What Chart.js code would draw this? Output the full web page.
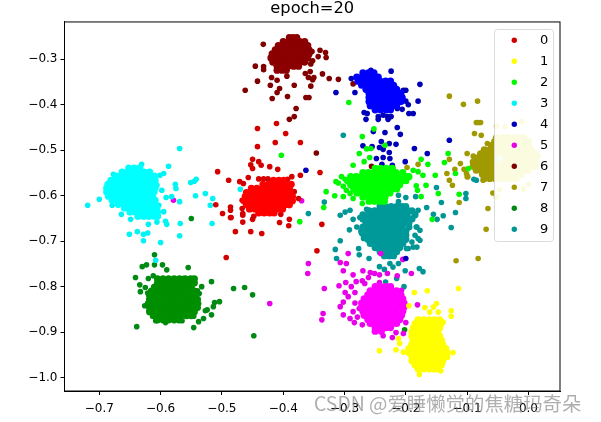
<!DOCTYPE html>
<html>
<head>
<meta charset="utf-8">
<script src="https://cdn.jsdelivr.net/npm/chart.js@4"></script>
<style>
body{margin:0;background:#fff;}
#wrap{position:relative;width:601px;height:422px;overflow:hidden;}
#mark{position:absolute;left:314px;top:388px;font:19.4px "Noto Sans CJK SC","Noto Sans",sans-serif;color:rgba(120,120,120,.6);white-space:nowrap;}
</style>
</head>
<body>
<div id="wrap">
<canvas id="chart" width="601" height="422"></canvas>
<div id="mark">CSDN @爱睡懒觉的焦糖玛奇朵</div>
</div>
<script>
const classNames = ['0','1','2','3','4','5','6','7','8','9'];
const coreColors = ['#ff0000','#ffff00','#00ff00','#00ffff','#0000ff','#ff00ff','#8b0000','#a09a00','#008f00','#009999'];
const strayColors = ['#d40000','#ffff00','#00f800','#00f4f4','#0000b8','#e800e8','#800000','#a09a00','#008a14','#009696'];
const xTicks = [-0.7,-0.6,-0.5,-0.4,-0.3,-0.2,-0.1,0.0];
const yTicks = [-0.3,-0.4,-0.5,-0.6,-0.7,-0.8,-0.9,-1.0];

// scattered points, [x, y]
const strays0 = [[-.442,-.452],[-.411,-.441],[-.396,-.463],[-.442,-.492],[-.413,-.483],[-.372,-.483],[-.45,-.52],[-.44,-.525],[-.453,-.532],[-.436,-.533],[-.45,-.54],[-.422,-.536],[-.409,-.542],[-.507,-.547],[-.489,-.566],[-.457,-.56],[-.471,-.569],[-.465,-.573],[-.372,-.555],[-.386,-.558],[-.393,-.564],[-.44,-.563],[-.432,-.563],[-.425,-.563],[-.51,-.62],[-.499,-.639],[-.486,-.625],[-.486,-.632],[-.486,-.648],[-.467,-.61],[-.467,-.628],[-.466,-.643],[-.404,-.641],[-.39,-.652],[-.375,-.606],[-.382,-.591],[-.389,-.577],[-.485,-.648],[-.466,-.658],[-.45,-.652],[-.448,-.645],[-.406,-.659],[-.391,-.666],[-.478,-.679],[-.453,-.679],[-.435,-.683],[-.493,-.736],[-.466,-.639],[-.438,-.638],[-.34,-.549],[-.337,-.663],[-.345,-.721]];
const strays1 = [[-.186,-.813],[-.165,-.809],[-.114,-.804],[-.195,-.842],[-.169,-.846],[-.15,-.837],[-.155,-.845],[-.161,-.856],[-.147,-.856],[-.126,-.853],[-.126,-.865],[-.139,-.878],[-.243,-.941],[-.216,-.939],[-.21,-.925],[-.212,-.914],[-.204,-.944],[-.123,-.945],[-.178,-.993],[-.143,-.985]];
const strays2 = [[-.293,-.395],[-.271,-.47],[-.252,-.453],[-.276,-.507],[-.257,-.496],[-.264,-.497],[-.286,-.533],[-.268,-.525],[-.259,-.516],[-.234,-.489],[-.175,-.52],[-.164,-.531],[-.188,-.544],[-.18,-.547],[-.172,-.555],[-.152,-.555],[-.183,-.578],[-.167,-.577],[-.181,-.588],[-.147,-.595],[-.175,-.602],[-.131,-.507],[-.137,-.527],[-.119,-.551],[-.098,-.54],[-.113,-.597],[-.33,-.591],[-.334,-.626],[-.314,-.569],[-.31,-.572],[-.305,-.558],[-.302,-.579],[-.299,-.564],[-.316,-.6],[-.302,-.602],[-.291,-.595],[-.286,-.606],[-.271,-.617],[-.289,-.558],[-.297,-.588],[-.157,-.652],[-.432,-.575],[-.403,-.511],[-.373,-.657]];
const strays3 = [[-.569,-.496],[-.587,-.535],[-.631,-.531],[-.677,-.553],[-.595,-.551],[-.601,-.555],[-.576,-.575],[-.575,-.584],[-.551,-.571],[-.542,-.564],[-.545,-.568],[-.606,-.577],[-.598,-.588],[-.543,-.6],[-.527,-.595],[-.515,-.606],[-.519,-.621],[-.569,-.613],[-.582,-.602],[-.591,-.604],[-.7,-.608],[-.719,-.621],[-.679,-.621],[-.664,-.641],[-.649,-.652],[-.603,-.621],[-.595,-.635],[-.62,-.663],[-.606,-.658],[-.592,-.656],[-.59,-.663],[-.568,-.661],[-.516,-.661],[-.651,-.685],[-.638,-.679],[-.628,-.685],[-.621,-.682],[-.628,-.699],[-.6,-.703],[-.569,-.688],[-.608,-.742],[-.47,-.586],[-.39,-.608],[-.047,-.518]];
const strays4 = [[-.289,-.342],[-.257,-.324],[-.224,-.326],[-.177,-.355],[-.314,-.373],[-.283,-.373],[-.2,-.368],[-.204,-.368],[-.2,-.392],[-.18,-.392],[-.196,-.4],[-.214,-.408],[-.206,-.41],[-.195,-.419],[-.188,-.419],[-.268,-.417],[-.263,-.419],[-.265,-.432],[-.245,-.426],[-.245,-.432],[-.237,-.423],[-.23,-.426],[-.224,-.426],[-.229,-.432],[-.214,-.45],[-.253,-.459],[-.234,-.461],[-.209,-.465],[-.24,-.481],[-.227,-.485],[-.27,-.49],[-.255,-.492],[-.243,-.494],[-.237,-.498],[-.216,-.487],[-.227,-.505],[-.186,-.496],[-.165,-.507],[-.129,-.478],[-.248,-.518],[-.237,-.516],[-.226,-.518],[-.239,-.531],[-.222,-.533],[-.201,-.525],[-.206,-.555],[-.363,-.544],[-.2,-.738]];
const strays5 = [[-.294,-.727],[-.307,-.747],[-.297,-.749],[-.302,-.765],[-.286,-.774],[-.27,-.765],[-.258,-.769],[-.251,-.771],[-.243,-.774],[-.261,-.78],[-.23,-.771],[-.214,-.776],[-.191,-.771],[-.298,-.791],[-.309,-.798],[-.289,-.8],[-.281,-.789],[-.271,-.787],[-.267,-.793],[-.243,-.791],[-.283,-.813],[-.299,-.813],[-.294,-.822],[-.302,-.834],[-.307,-.844],[-.283,-.836],[-.276,-.848],[-.286,-.855],[-.302,-.862],[-.291,-.87],[-.279,-.867],[-.284,-.879],[-.271,-.884],[-.333,-.804],[-.335,-.859],[-.337,-.873],[-.359,-.749],[-.36,-.771],[-.422,-.837],[-.579,-.61],[-.37,-.611],[-.181,-.84],[-.185,-.917],[-.2,-.879],[-.204,-.903],[-.216,-.901],[-.222,-.912],[-.237,-.908],[-.207,-.808],[-.241,-.727],[-.205,-.74]];
const strays6 = [[-.4325,-.267],[-.4455,-.315],[-.432,-.316],[-.432,-.323],[-.419,-.34],[-.41,-.346],[-.394,-.337],[-.442,-.348],[-.421,-.357],[-.406,-.364],[-.41,-.373],[-.382,-.357],[-.462,-.368],[-.418,-.386],[-.393,-.382],[-.363,-.384],[-.358,-.384],[-.379,-.408],[-.382,-.426],[-.39,-.432],[-.364,-.331],[-.359,-.34],[-.353,-.283],[-.34,-.28],[-.331,-.285],[-.33,-.296],[-.343,-.294],[-.352,-.303],[-.355,-.31],[-.356,-.327],[-.35,-.34],[-.352,-.345],[-.336,-.332],[-.325,-.342],[-.31,-.344],[-.286,-.354],[-.355,-.359],[-.346,-.506],[-.256,-.535]];
const strays7 = [[-.129,-.381],[-.106,-.399],[-.083,-.392],[-.082,-.439],[-.078,-.439],[-.085,-.439],[-.088,-.463],[-.077,-.467],[-.067,-.485],[-.1,-.507],[-.129,-.52],[-.111,-.529],[-.12,-.542],[-.133,-.551],[-.129,-.566],[-.124,-.577],[-.105,-.542],[-.101,-.551],[-.1,-.558],[-.09,-.513],[-.058,-.594],[-.113,-.615],[-.066,-.628],[-.069,-.674],[-.118,-.743],[-.082,-.738],[-.198,-.538],[-.18,-.531],[-.06,-.561],[-.074,-.566],[-.099,-.558],[-.052,-.447],[-.038,-.448],[-.011,-.437],[0,-.575],[-.008,-.585],[-.047,-.587],[.016,-.511],[-.052,-.603]];
const strays8 = [[-.61,-.73],[-.63,-.756],[-.623,-.752],[-.61,-.752],[-.597,-.752],[-.59,-.763],[-.555,-.758],[-.641,-.78],[-.62,-.782],[-.612,-.776],[-.634,-.796],[-.633,-.811],[-.625,-.802],[-.621,-.814],[-.626,-.842],[-.639,-.888],[-.517,-.789],[-.533,-.8],[-.54,-.809],[-.537,-.815],[-.538,-.837],[-.504,-.833],[-.512,-.835],[-.514,-.844],[-.524,-.851],[-.527,-.853],[-.517,-.862],[-.53,-.87],[-.538,-.877],[-.546,-.89],[-.481,-.804],[-.463,-.802],[-.45,-.818],[-.448,-.908],[-.55,-.65],[-.571,-.782],[-.563,-.782],[-.55,-.789],[-.592,-.879],[-.608,-.875],[-.565,-.875],[-.546,-.865],[-.202,-.895]];
const strays9 = [[-.302,-.467],[-.333,-.614],[-.307,-.643],[-.299,-.636],[-.291,-.632],[-.264,-.63],[-.286,-.652],[-.275,-.648],[-.292,-.675],[-.28,-.669],[-.272,-.683],[-.269,-.694],[-.277,-.716],[-.307,-.699],[-.315,-.718],[-.313,-.738],[-.18,-.632],[-.166,-.626],[-.155,-.641],[-.149,-.652],[-.139,-.644],[-.126,-.67],[-.119,-.637],[-.182,-.669],[-.177,-.676],[-.185,-.687],[-.177,-.698],[-.19,-.702],[-.182,-.713],[-.196,-.716],[-.15,-.582],[-.142,-.615],[-.184,-.602],[-.2,-.604],[-.242,-.56],[-.233,-.547],[-.22,-.57],[-.217,-.584],[-.212,-.599],[-.237,-.595],[-.25,-.599],[-.264,-.586],[-.242,-.578],[-.212,-.613],[-.102,-.595],[-.102,-.606],[-.089,-.564],[-.085,-.566],[-.259,-.398],[-.248,-.39],[-.246,-.398],[-.276,-.73],[-.26,-.738],[-.243,-.756],[-.235,-.762],[-.201,-.765],[-.178,-.76],[-.172,-.767],[-.215,-.782],[-.233,-.79],[-.203,-.8],[-.221,-.757],[-.212,-.749],[-.226,-.749],[-.183,-.669],[-.18,-.694],[-.188,-.713],[-.199,-.716],[-.359,-.639],[-.408,-.615]];

// dense clusters, each row is [y, x, x, x, ...]
const core0 = [
[-.566,-.416,-.407,-.399],
[-.575,-.433,-.424,-.414,-.405,-.396,-.387],
[-.584,-.452,-.443,-.434,-.425,-.416,-.407,-.398,-.39],
[-.593,-.46,-.451,-.442,-.433,-.424,-.415,-.406,-.397,-.389],
[-.602,-.462,-.453,-.444,-.435,-.426,-.417,-.408,-.399,-.39,-.385],
[-.611,-.464,-.455,-.446,-.437,-.428,-.419,-.41,-.401,-.392,-.385],
[-.62,-.46,-.451,-.442,-.433,-.424,-.415,-.406,-.397,-.39],
[-.629,-.455,-.446,-.437,-.428,-.419,-.41,-.401],
[-.638,-.44,-.431,-.422,-.415]];
const core1 = [
[-.873,-.18,-.171,-.162,-.153,-.145],
[-.882,-.185,-.176,-.167,-.158,-.15,-.143],
[-.891,-.188,-.179,-.17,-.161,-.152,-.145],
[-.9,-.19,-.181,-.172,-.163,-.155,-.148],
[-.909,-.19,-.181,-.172,-.163,-.154,-.145],
[-.918,-.188,-.179,-.17,-.161,-.152,-.142],
[-.927,-.19,-.181,-.172,-.163,-.154,-.146,-.14],
[-.936,-.195,-.186,-.177,-.168,-.159,-.15,-.142,-.135],
[-.945,-.195,-.186,-.177,-.168,-.159,-.15,-.141,-.133],
[-.954,-.19,-.181,-.172,-.163,-.154,-.145,-.137,-.133],
[-.963,-.19,-.181,-.172,-.163,-.154,-.146,-.14],
[-.972,-.185,-.176,-.167,-.158,-.15,-.142],
[-.981,-.18,-.171,-.162,-.155,-.15]];
const core2 = [
[-.54,-.25,-.241,-.232,-.222],
[-.549,-.27,-.261,-.252,-.243,-.234,-.225,-.216,-.205],
[-.558,-.29,-.281,-.272,-.263,-.254,-.245,-.236,-.227,-.218,-.209,-.2,-.195],
[-.567,-.295,-.286,-.277,-.268,-.259,-.25,-.241,-.232,-.223,-.214,-.205,-.2],
[-.576,-.29,-.281,-.272,-.263,-.254,-.245,-.236,-.227,-.218,-.21],
[-.585,-.285,-.276,-.267,-.258,-.249,-.24,-.231,-.222,-.215],
[-.594,-.28,-.271,-.262,-.253,-.244,-.235,-.226],
[-.603,-.27,-.261,-.252,-.243,-.234],
[-.612,-.26,-.251,-.242,-.235]];
const core3 = [
[-.539,-.652,-.643,-.634],
[-.548,-.663,-.654,-.645,-.636,-.627,-.618],
[-.557,-.673,-.664,-.655,-.646,-.637,-.628,-.619,-.61],
[-.566,-.681,-.672,-.663,-.654,-.645,-.636,-.627,-.618,-.609],
[-.575,-.686,-.677,-.668,-.659,-.65,-.641,-.632,-.623,-.614,-.609],
[-.583,-.688,-.679,-.67,-.661,-.652,-.643,-.634,-.625,-.616,-.609],
[-.592,-.688,-.679,-.67,-.661,-.652,-.643,-.634,-.625,-.616,-.611],
[-.601,-.685,-.676,-.667,-.658,-.649,-.64,-.631,-.622,-.613],
[-.61,-.679,-.67,-.661,-.652,-.643,-.634,-.625,-.616,-.609],
[-.619,-.669,-.66,-.651,-.642,-.633,-.624,-.615,-.609],
[-.627,-.659,-.65,-.641,-.632,-.623,-.614,-.606],
[-.636,-.65,-.641,-.632,-.623,-.614,-.605],
[-.645,-.637,-.628,-.619,-.61,-.605]];
const core4 = [
[-.33,-.27,-.261,-.252],
[-.339,-.28,-.271,-.262,-.253,-.245],
[-.348,-.278,-.269,-.26,-.251,-.242,-.233,-.225],
[-.357,-.272,-.263,-.254,-.245,-.236,-.227,-.22],
[-.366,-.265,-.256,-.247,-.238,-.229,-.22,-.215],
[-.375,-.26,-.251,-.242,-.233,-.224,-.215,-.208],
[-.384,-.26,-.251,-.242,-.233,-.224,-.215,-.206],
[-.393,-.26,-.251,-.242,-.233,-.224,-.215,-.208],
[-.402,-.258,-.249,-.24,-.231,-.222,-.215],
[-.411,-.25,-.241,-.232,-.225]];
const core5 = [
[-.8,-.25,-.241,-.232,-.225],
[-.809,-.258,-.249,-.24,-.231,-.222,-.215],
[-.818,-.262,-.253,-.244,-.235,-.226,-.217,-.208],
[-.827,-.268,-.259,-.25,-.241,-.232,-.223,-.214,-.205],
[-.836,-.272,-.263,-.254,-.245,-.236,-.227,-.218,-.209,-.203],
[-.845,-.272,-.263,-.254,-.245,-.236,-.227,-.218,-.209,-.203],
[-.854,-.27,-.261,-.252,-.243,-.234,-.225,-.216,-.205],
[-.863,-.268,-.259,-.25,-.241,-.232,-.223,-.214,-.207],
[-.872,-.262,-.253,-.244,-.235,-.226,-.217,-.21],
[-.881,-.258,-.249,-.24,-.231,-.222,-.215],
[-.89,-.25,-.241,-.232,-.225],
[-.898,-.25,-.24]];
const core6 = [
[-.252,-.39,-.384,-.378],
[-.261,-.4,-.391,-.382,-.373,-.365],
[-.27,-.408,-.399,-.39,-.381,-.372,-.363,-.36],
[-.279,-.413,-.404,-.395,-.386,-.377,-.368,-.358],
[-.288,-.418,-.409,-.4,-.391,-.382,-.373,-.364,-.358],
[-.297,-.42,-.411,-.402,-.393,-.384,-.375,-.366,-.36],
[-.306,-.417,-.408,-.399,-.39,-.381,-.372,-.365],
[-.315,-.41,-.401,-.392,-.383,-.375],
[-.324,-.41,-.402,-.395]];
const core7 = [
[-.472,-.052,-.043,-.034,-.025,-.016,-.008],
[-.481,-.055,-.046,-.037,-.028,-.019,-.01,0],
[-.49,-.06,-.051,-.042,-.033,-.024,-.015,-.006,0],
[-.499,-.072,-.063,-.054,-.045,-.036,-.027,-.018,-.009,0,.005],
[-.508,-.078,-.069,-.06,-.051,-.042,-.033,-.024,-.015,-.006,.003,.01],
[-.517,-.085,-.076,-.067,-.058,-.049,-.04,-.031,-.022,-.013,-.004,.005,.012],
[-.526,-.09,-.081,-.072,-.063,-.054,-.045,-.036,-.027,-.018,-.009,0,.012],
[-.535,-.09,-.081,-.072,-.063,-.054,-.045,-.036,-.027,-.018,-.009,0,.01],
[-.544,-.085,-.076,-.067,-.058,-.049,-.04,-.031,-.022,-.013,-.004,0],
[-.553,-.075,-.066,-.057,-.048,-.039,-.03,-.021,-.012],
[-.562,-.072,-.063,-.054,-.045,-.036,-.027,-.02]];
const core8 = [
[-.783,-.605,-.596,-.587,-.578,-.569,-.56,-.551,-.545],
[-.792,-.605,-.596,-.587,-.578,-.569,-.56,-.551,-.545],
[-.801,-.61,-.601,-.592,-.583,-.574,-.565,-.556,-.55],
[-.81,-.615,-.606,-.597,-.588,-.579,-.57,-.561,-.552,-.545],
[-.819,-.618,-.609,-.6,-.591,-.582,-.573,-.564,-.555,-.545],
[-.828,-.618,-.609,-.6,-.591,-.582,-.573,-.564,-.555,-.546,-.54],
[-.837,-.62,-.611,-.602,-.593,-.584,-.575,-.566,-.557,-.548,-.54],
[-.846,-.618,-.609,-.6,-.591,-.582,-.573,-.564,-.555,-.546,-.54],
[-.855,-.618,-.609,-.6,-.591,-.582,-.573,-.564,-.555,-.545],
[-.864,-.612,-.603,-.594,-.585,-.576,-.567,-.558,-.55],
[-.873,-.605,-.596,-.587,-.578,-.57]];
const core9 = [
[-.624,-.242,-.233,-.224,-.215,-.206,-.2],
[-.633,-.26,-.251,-.242,-.233,-.224,-.215,-.206,-.197,-.19],
[-.642,-.27,-.261,-.252,-.243,-.234,-.225,-.216,-.207,-.198,-.185],
[-.651,-.27,-.261,-.252,-.243,-.234,-.225,-.216,-.207,-.198,-.19],
[-.66,-.265,-.256,-.247,-.238,-.229,-.22,-.211,-.202,-.195],
[-.669,-.27,-.261,-.252,-.243,-.234,-.225,-.216,-.207,-.195],
[-.678,-.272,-.263,-.254,-.245,-.236,-.227,-.218,-.209,-.2],
[-.687,-.268,-.259,-.25,-.241,-.232,-.223,-.214,-.205,-.2],
[-.696,-.262,-.253,-.244,-.235,-.226,-.217,-.208,-.2],
[-.705,-.258,-.249,-.24,-.231,-.222,-.213,-.205],
[-.714,-.25,-.241,-.232,-.223,-.214,-.21],
[-.723,-.242,-.233,-.224,-.215],
[-.732,-.235,-.227,-.22]];

const allStrays = [strays0,strays1,strays2,strays3,strays4,strays5,strays6,strays7,strays8,strays9];
const allCores = [core0,core1,core2,core3,core4,core5,core6,core7,core8,core9];

function toPoints(strays, core){
    let pts = strays.map(p => ({x:p[0], y:p[1]}));
    for(let row of core){
        for(let i = 1; i < row.length; i++){
            pts.push({x:row[i], y:row[0]});
        }
    }
    return pts;
}

// scattered points come first in each dataset, the cluster is drawn over them
const datasets = classNames.map((name, i) => {
    let n = allStrays[i].length;
    return {
        label: name,
        data: toPoints(allStrays[i], allCores[i]),
        pointBackgroundColor: ctx => ctx.dataIndex < n ? strayColors[i] : coreColors[i],
        pointRadius: ctx => ctx.dataIndex < n ? 2.8 : 3.6,
        pointBorderWidth: 0
    };
});

function tickText(v){
    return v.toFixed(1).replace('-', '\u2212');
}

// spines, white page and the boxed legend inside the axes
const framePlugin = {
    id: 'frame',
    beforeDraw(c){
        c.ctx.fillStyle = '#fff';
        c.ctx.fillRect(0, 0, c.width, c.height);
    },
    afterDraw(c){
        let ctx = c.ctx, a = c.chartArea;
        ctx.save();
        ctx.strokeStyle = '#000';
        ctx.lineWidth = 1;
        ctx.strokeRect(a.left, a.top, a.right - a.left, a.bottom - a.top);

        ctx.beginPath();
        ctx.roundRect(494.5, 29.5, 59, 212, 3);
        ctx.globalCompositeOperation = 'screen';
        ctx.fillStyle = 'rgb(245,245,224)';
        ctx.fill();
        ctx.globalCompositeOperation = 'source-over';
        ctx.strokeStyle = 'rgba(215,215,215,.9)';
        ctx.stroke();

        ctx.font = '13px "DejaVu Sans"';
        ctx.textBaseline = 'middle';
        classNames.forEach((name, i) => {
            let y = 40.3 + i * 21;
            ctx.beginPath();
            ctx.arc(514.3, y, 2.7, 0, Math.PI * 2);
            ctx.fillStyle = strayColors[i];
            ctx.fill();
            ctx.fillStyle = '#000';
            ctx.fillText(name, 540, y + 0.5);
        });
        ctx.restore();
    }
};

const chart = new Chart(document.getElementById('chart'), {
    type: 'scatter',
    data: { datasets: datasets },
    options: {
        responsive: false,
        animation: false,
        devicePixelRatio: 1,
        layout: { padding: { left: 0, right: 41, top: 0, bottom: 0 } },
        plugins: {
            legend: { display: false },
            tooltip: { enabled: false },
            title: {
                display: true,
                fullSize: false,
                text: 'epoch=20',
                color: '#000',
                font: { family: 'DejaVu Sans', size: 16.3, weight: 'normal' },
                padding: { top: -1.5, bottom: 3.9 }
            }
        },
        scales: {
            x: {
                type: 'linear',
                min: -0.7568,
                max: 0.0515,
                afterBuildTicks: s => { s.ticks = xTicks.map(v => ({value: v})); },
                afterFit: s => { s.height = 31; },
                grid: { drawOnChartArea: false, color: '#000', tickLength: 4 },
                border: { color: '#000' },
                ticks: {
                    color: '#000', maxRotation: 0, padding: 7, autoSkip: false,
                    font: { family: 'DejaVu Sans', size: 12 },
                    callback: v => tickText(v)
                }
            },
            y: {
                type: 'linear',
                min: -1.0295,
                max: -0.2178,
                afterBuildTicks: s => { s.ticks = yTicks.map(v => ({value: v})); },
                afterFit: s => { s.width = 64.5; },
                grid: { drawOnChartArea: false, color: '#000', tickLength: 4 },
                border: { color: '#000' },
                ticks: {
                    color: '#000', padding: 3, autoSkip: false,
                    font: { family: 'DejaVu Sans', size: 12 },
                    callback: v => tickText(v)
                }
            }
        }
    },
    plugins: [framePlugin]
});
</script>
</body>
</html>
